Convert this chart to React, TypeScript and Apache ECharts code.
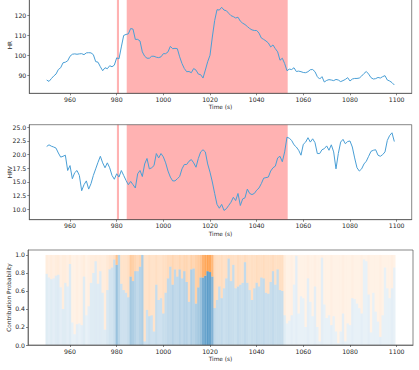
import React, { useEffect, useRef } from "react";
import * as echarts from "echarts";

// time stamps (s)
const times: number[] = [];
for (let t = 950; t <= 1099; t++) times.push(t);

const hr = [
  87.5, 86.8, 88.2, 89.5, 90.5, 92.8, 93.7, 96.2, 96.5, 97.2,
  99.5, 100.5, 100.7, 100.5, 100.7, 100.8, 100.3, 101.2, 101.3, 101.2,
  100.3, 96.8, 96.5, 94.2, 92.2, 93.7, 93.2, 94.7, 94.2, 95.0,
  98.7, 98.2, 104.2, 110.0, 110.5, 110.8, 113.5, 113.2, 108.0, 108.0,
  107.2, 101.7, 99.5, 98.5, 98.5, 99.5, 99.5, 99.0, 98.8, 99.2,
  100.8, 100.8, 101.7, 104.5, 103.3, 103.5, 103.3, 99.2, 95.8, 93.3,
  91.7, 91.8, 91.2, 93.3, 92.5, 90.5, 90.2, 88.5, 92.5, 96.7,
  100.0, 109.2, 117.5, 123.0, 122.8, 124.2, 122.8, 122.5, 121.2, 120.0,
  119.5, 118.8, 119.2, 117.2, 116.2, 115.5, 114.5, 113.5, 112.8, 112.5,
  112.5, 111.2, 108.7, 108.0, 107.2, 106.2, 104.2, 105.2, 103.3, 101.7,
  97.5, 98.5, 95.8, 92.2, 93.0, 92.8, 93.7, 91.8, 92.0, 91.7,
  91.3, 91.2, 91.7, 92.7, 92.8, 91.7, 89.2, 88.0, 89.2, 86.5,
  87.3, 87.7, 87.5, 87.2, 87.8, 87.5, 86.7, 87.2, 87.8, 88.7,
  87.0, 88.0, 88.3, 88.3, 88.5, 89.5, 90.8, 91.8, 90.5, 88.7,
  88.0, 88.2, 88.8, 88.5, 89.2, 89.7, 87.5, 87.0, 86.2, 85.0,
];

const hrv = [
  21.5, 21.8, 21.55, 21.4, 21.2, 20.3, 19.55, 19.7, 19.9, 17.1,
  18.0, 15.6, 16.7, 17.1, 16.2, 13.4, 14.5, 15.2, 13.7, 14.7,
  16.2, 17.4, 18.6, 19.7, 18.5, 17.6, 18.5, 17.6, 16.2, 15.5,
  16.5, 15.9, 17.1, 16.2, 15.3, 14.5, 15.1, 14.5, 13.9, 16.5,
  17.1, 16.0, 18.3, 19.3, 17.4, 17.6, 18.0, 20.2, 19.4, 20.2,
  19.6, 18.5, 17.0, 15.9, 15.2, 15.2, 15.6, 16.0, 17.4, 18.2,
  18.2, 18.8, 19.1, 18.5, 17.7, 19.3, 20.5, 20.9, 20.5, 18.3,
  16.8, 15.0, 12.9, 10.9, 10.2, 10.9, 9.8, 10.1, 10.7, 11.3,
  12.2, 11.6, 12.9, 10.7, 11.9, 12.1, 13.7, 12.9, 12.7, 12.9,
  13.5, 13.9, 14.7, 15.7, 15.8, 15.9, 17.0, 17.6, 17.9, 19.4,
  19.7, 18.7, 20.5, 23.2, 23.0, 22.6, 21.8, 21.4, 20.8, 19.9,
  21.9, 22.3, 23.1, 22.3, 22.9, 22.2, 20.2, 20.2, 20.9, 21.1,
  21.6, 20.8, 21.8, 20.5, 17.4, 20.2, 22.3, 22.8, 22.0, 22.4,
  22.5, 21.4, 19.4, 17.6, 17.0, 17.4, 18.3, 18.8, 19.7, 20.6,
  20.8, 20.9, 19.9, 19.7, 20.0, 20.5, 22.6, 23.5, 24.0, 22.4,
];

// probability of the blue (lower) part of each bar
const prob = [
  0.79, 0.75, 0.73, 0.74, 0.77, 0.78, 0.64, 0.40, 0.69, 0.65,
  0.90, 0.25, 0.12, 0.23, 0.24, 0.22, 0.76, 0.33, 0.43, 0.69,
  0.80, 0.93, 0.68, 0.82, 0.58, 0.17, 0.61, 0.84, 0.86, 0.95,
  0.89, 1.0, 0.68, 0.61, 0.58, 0.53, 0.76, 0.71, 0.82, 0.82,
  0.87, 1.0, 0.04, 0.39, 0.32, 0.33, 0.15, 0.67, 0.50, 0.52,
  0.35, 0.58, 0.74, 0.87, 0.67, 0.84, 0.76, 0.84, 0.74, 0.82,
  0.70, 0.48, 0.84, 0.85, 0.46, 0.64, 0.75, 0.75, 0.77, 0.82,
  0.81, 0.76, 0.41, 0.50, 0.65, 0.52, 0.63, 0.74, 0.96, 0.71,
  0.89, 0.63, 0.65, 0.67, 0.69, 0.92, 0.69, 0.61, 0.50, 0.63,
  0.69, 0.65, 0.75, 0.74, 0.58, 0.57, 0.70, 0.82, 0.67, 0.84,
  0.61, 0.60, 0.33, 0.24, 0.27, 0.33, 0.67, 0.99, 0.35, 0.54,
  0.52, 0.20, 0.74, 0.48, 0.32, 0.65, 0.20, 0.04, 0.97, 0.45,
  0.30, 0.33, 0.22, 0.32, 0.15, 0.02, 0.15, 0.35, 0.04, 0.24,
  0.22, 0.52, 0.51, 0.46, 0.41, 0.35, 0.95, 0.93, 0.56, 0.14,
  0.58, 0.37, 0.26, 0.09, 0.33, 0.86, 0.63, 0.52, 0.63, 0.86,
];

// opacity (weight) of each bar
const weight = [
  0.14, 0.12, 0.14, 0.12, 0.14, 0.15, 0.12, 0.14, 0.14, 0.12,
  0.15, 0.1, 0.1, 0.12, 0.1, 0.12, 0.14, 0.1, 0.12, 0.14,
  0.14, 0.15, 0.14, 0.15, 0.14, 0.14, 0.17, 0.2, 0.2, 0.24,
  0.45, 0.3, 0.22, 0.22, 0.22, 0.25, 0.4, 0.36, 0.32, 0.28,
  0.32, 0.36, 0.22, 0.22, 0.25, 0.22, 0.22, 0.25, 0.22, 0.22,
  0.25, 0.25, 0.28, 0.28, 0.32, 0.28, 0.28, 0.32, 0.28, 0.32,
  0.32, 0.28, 0.36, 0.32, 0.36, 0.4, 0.45, 0.6, 0.68, 0.72,
  0.68, 0.55, 0.28, 0.25, 0.25, 0.27, 0.23, 0.25, 0.27, 0.25,
  0.25, 0.23, 0.27, 0.25, 0.24, 0.27, 0.25, 0.23, 0.25, 0.24,
  0.27, 0.25, 0.25, 0.27, 0.24, 0.25, 0.25, 0.27, 0.24, 0.25,
  0.25, 0.25, 0.14, 0.1, 0.1, 0.12, 0.1, 0.12, 0.1, 0.1,
  0.1, 0.1, 0.12, 0.1, 0.1, 0.12, 0.1, 0.1, 0.12, 0.1,
  0.1, 0.1, 0.12, 0.1, 0.1, 0.1, 0.1, 0.12, 0.1, 0.1,
  0.1, 0.12, 0.1, 0.1, 0.1, 0.12, 0.1, 0.1, 0.12, 0.1,
  0.1, 0.1, 0.1, 0.12, 0.1, 0.1, 0.1, 0.1, 0.12, 0.1,
];

// shaded intervals (s)
const spans: [number, number][] = [
  [980.1, 981.0],
  [984.3, 1053.3],
];

const xTicks = [960, 980, 1000, 1020, 1040, 1060, 1080, 1100];
const hrTicks = [90, 100, 110, 120];
const hrvTicks = [10.0, 12.5, 15.0, 17.5, 20.0, 22.5, 25.0];
const probTicks = [0.0, 0.2, 0.4, 0.6, 0.8, 1.0];

const FONT = "DejaVu Sans";
const TXT = "#262626";
const LINE = "#4a9fd6";

function xAxisCfg(i: number, min: number, max: number) {
  return {
    gridIndex: i,
    type: "value",
    min,
    max,
    splitLine: { show: false },
    axisLine: { show: true, onZero: false, lineStyle: { color: "#555", width: 0.7 } },
    axisTick: { show: true, length: 2, customValues: xTicks, lineStyle: { color: "#333", width: 0.6 } },
    axisLabel: {
      customValues: xTicks,
      fontSize: 6.2,
      fontFamily: FONT,
      color: TXT,
      margin: 3,
      formatter: (v: number) => String(Math.round(v)),
    },
    name: "Time (s)",
    nameLocation: "middle",
    nameGap: 11,
    nameMoveOverlap: false,
    nameTextStyle: { fontSize: 5.8, fontFamily: FONT, color: TXT },
  };
}

function yAxisCfg(i: number, min: number, max: number, ticks: number[], name: string, fmt: (v: number) => string) {
  return {
    gridIndex: i,
    type: "value",
    min,
    max,
    splitLine: { show: false },
    axisLine: { show: true, lineStyle: { color: "#555", width: 0.7 } },
    axisTick: { show: true, length: 2, customValues: ticks, lineStyle: { color: "#333", width: 0.6 } },
    axisLabel: {
      customValues: ticks,
      fontSize: 6.2,
      fontFamily: FONT,
      color: TXT,
      margin: 3,
      formatter: (v: number) => fmt(v),
    },
    name,
    nameLocation: "middle",
    nameGap: 16.5,
    nameMoveOverlap: false,
    nameTextStyle: { fontSize: 5.8, fontFamily: FONT, color: TXT },
  };
}

export default function App() {
  const ref = useRef<HTMLDivElement>(null);
  useEffect(() => {
    if (!ref.current) return;
    const chart = echarts.init(ref.current, null, { renderer: "svg" });
    const gridBase = {
      show: true,
      borderColor: "#555",
      borderWidth: 0.7,
      backgroundColor: "transparent",
      containLabel: false,
      outerBoundsMode: "none",
      z: 5,
    };
    const markArea = {
      silent: true,
      itemStyle: { color: "rgba(255,0,0,0.3)" },
      data: spans.map(([a, b]) => [{ xAxis: a }, { xAxis: b }]),
    };
    const option: any = {
      animation: false,
      backgroundColor: "#ffffff",
      grid: [
        { ...gridBase, left: 29.3, right: 7.3, top: -3, height: 96.3 },
        { ...gridBase, left: 29.3, right: 7.3, top: 124.7, height: 95 },
        { ...gridBase, left: 28, right: 6, top: 250, height: 95 },
      ],
      xAxis: [
        xAxisCfg(0, 942.55, 1106.45),
        xAxisCfg(1, 942.55, 1106.45),
        xAxisCfg(2, 942, 1107),
      ],
      yAxis: [
        yAxisCfg(0, 80.8, 129.4, hrTicks, "HR", (v) => String(v)),
        yAxisCfg(1, 8.1, 25.48, hrvTicks, "HRV", (v) => v.toFixed(1)),
        yAxisCfg(2, 0, 1.055, probTicks, "Contribution Probability", (v) => v.toFixed(1)),
      ],
      series: [
        {
          type: "line",
          xAxisIndex: 0,
          yAxisIndex: 0,
          data: times.map((t, i) => [t, hr[i]]),
          showSymbol: false,
          lineStyle: { color: LINE, width: 1 },
          itemStyle: { color: LINE },
          markArea,
          z: 3,
        },
        {
          type: "line",
          xAxisIndex: 1,
          yAxisIndex: 1,
          data: times.map((t, i) => [t, hrv[i]]),
          showSymbol: false,
          lineStyle: { color: LINE, width: 1 },
          itemStyle: { color: LINE },
          markArea,
          z: 3,
        },
        {
          type: "custom",
          xAxisIndex: 2,
          yAxisIndex: 2,
          data: times.map((t, i) => [t, prob[i], weight[i]]),
          encode: { x: 0, y: 1 },
          renderItem: (_params: any, api: any) => {
            const t = api.value(0);
            const p = api.value(1);
            const a = api.value(2);
            const bl = api.coord([t - 0.5, 0]);
            const mid = api.coord([t + 0.5, p]);
            const top = api.coord([t + 0.5, 1]);
            const w = mid[0] - bl[0];
            return {
              type: "group",
              children: [
                {
                  type: "rect",
                  shape: { x: bl[0], y: mid[1], width: w, height: bl[1] - mid[1] },
                  style: { fill: `rgba(31,119,180,${a})` },
                },
                {
                  type: "rect",
                  shape: { x: bl[0], y: top[1], width: w, height: mid[1] - top[1] },
                  style: { fill: `rgba(255,127,14,${a})` },
                },
              ],
            };
          },
        },
      ],
    };
    chart.setOption(option);
    return () => chart.dispose();
  }, []);
  return (
    <div
      ref={ref}
      style={{ position: "absolute", left: 0, top: 0, width: 419, height: 370, background: "#fff" }}
    />
  );
}
